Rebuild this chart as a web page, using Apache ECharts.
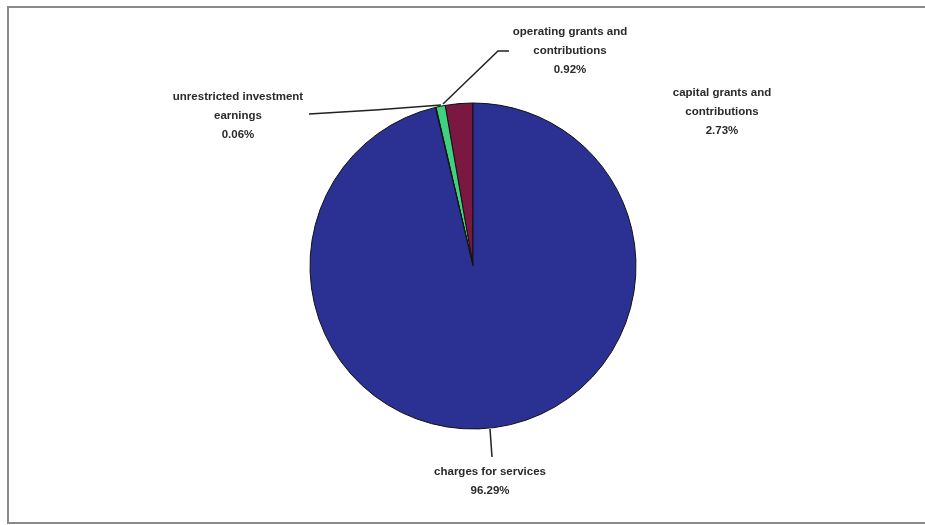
<!DOCTYPE html>
<html>
<head>
<meta charset="utf-8">
<script src="https://cdn.jsdelivr.net/npm/echarts@6/dist/echarts.min.js"></script>
<style>html,body{margin:0;padding:0;background:#fff}#c{width:925px;height:525px}</style>
</head>
<body>
<div id="c"></div>
<script>
const categories = ['capital grants and contributions', 'operating grants and contributions', 'unrestricted investment earnings', 'charges for services'];
const labelTexts = ['capital grants and\ncontributions', 'operating grants and\ncontributions', 'unrestricted investment\nearnings', 'charges for services'];
const values = [2.73, 0.92, 0.06, 96.29];
const colors = ['#7a1842', '#3fd17f', '#d8d8a0', '#2a3192'];

const labelPos = [
  {x: 722, y: 112, line: null},
  {x: 570, y: 51, line: [[443, 104], [498, 51], [509, 51]]},
  {x: 238, y: 116, line: [[441, 105], [375, 110], [309, 114]]},
  {x: 490, y: 481, line: [[490, 429], [491, 443], [492, 457]]}
];

const chart = echarts.init(document.getElementById('c'));
chart.setOption({
  animation: false,
  backgroundColor: '#fff',
  graphic: [{
    type: 'rect', shape: {x: 8, y: 7, width: 940, height: 516},
    style: {fill: 'none', stroke: '#8a8a8a', lineWidth: 2}, silent: true
  }],
  series: [{
    type: 'pie',
    center: [473, 266],
    radius: 163,
    startAngle: 90,
    clockwise: false,
    minAngle: 0,
    avoidLabelOverlap: false,
    emphasis: {disabled: true},
    itemStyle: {borderColor: '#111', borderWidth: 1},
    label: {
      show: true,
      formatter: p => labelTexts[p.dataIndex] + '\n' + p.value.toFixed(2) + '%',
      fontFamily: 'Liberation Sans, Arial, sans-serif',
      fontSize: 11.5,
      fontWeight: 'bold',
      color: '#2a2a2a',
      lineHeight: 19,
      align: 'center'
    },
    labelLine: {show: true, lineStyle: {color: '#222', width: 1.5}},
    labelLayout: function (params) {
      const p = labelPos[params.dataIndex];
      const r = {x: p.x, y: p.y, align: 'center', verticalAlign: 'middle'};
      if (p.line) r.labelLinePoints = p.line;
      return r;
    },
    data: categories.map((c, i) => ({
      name: c,
      value: values[i],
      itemStyle: {color: colors[i]},
      labelLine: {show: i !== 0}
    }))
  }]
});
</script>
</body>
</html>
